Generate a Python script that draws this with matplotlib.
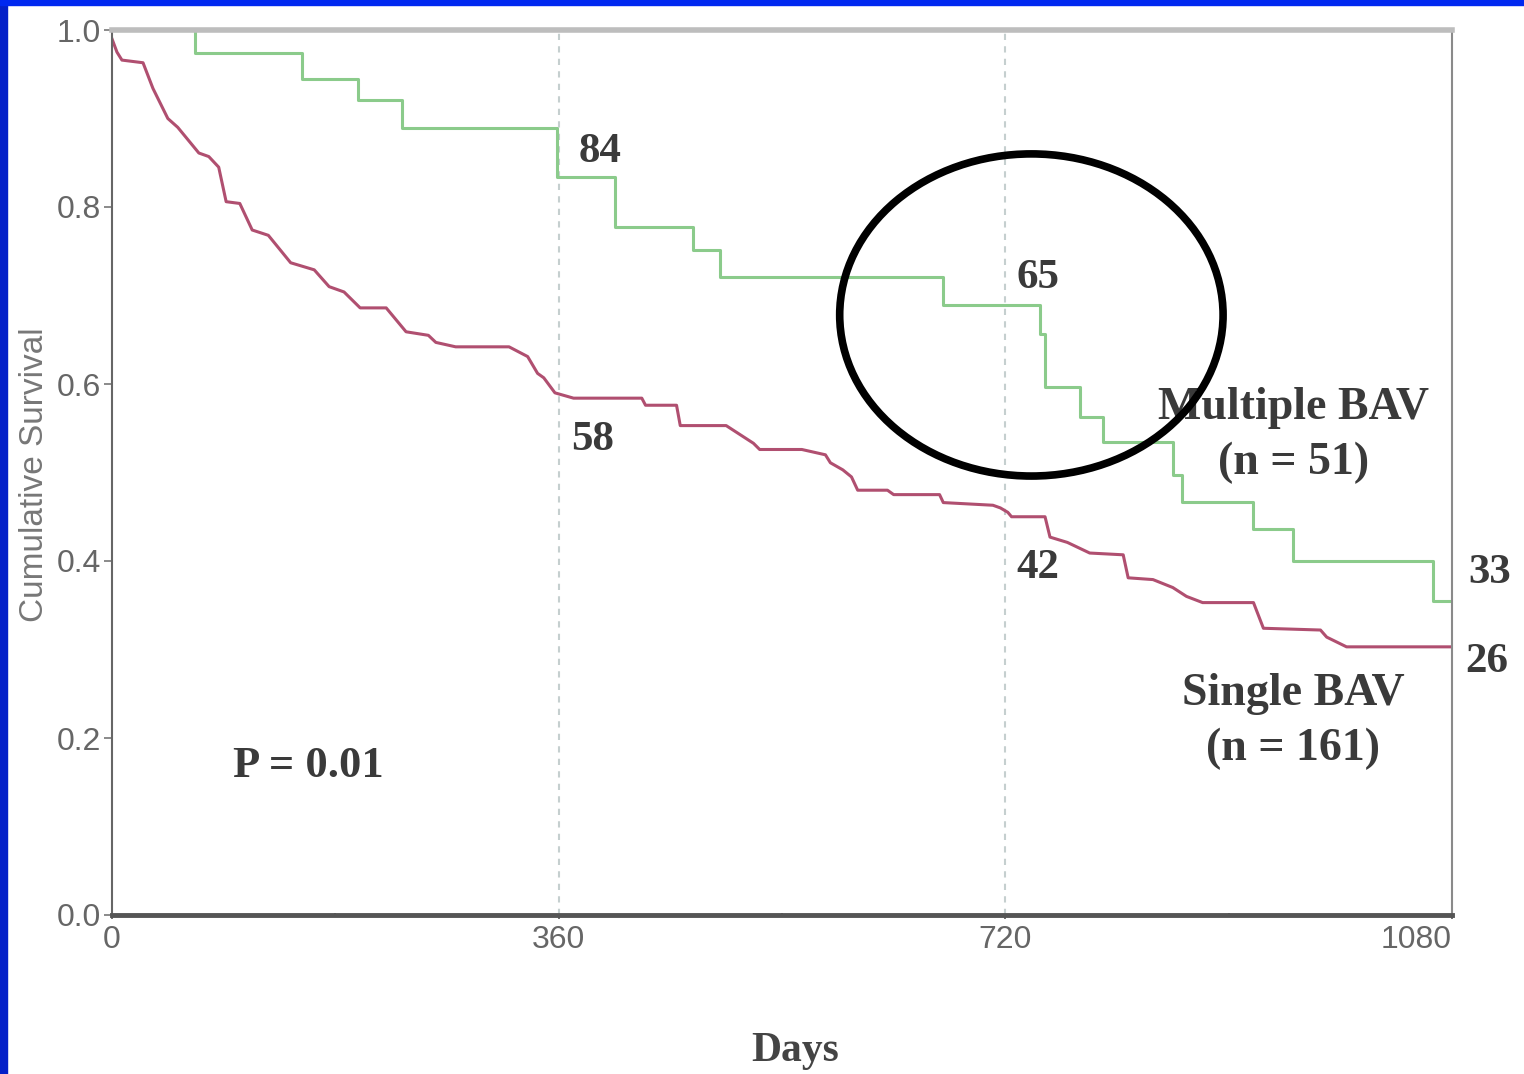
import numpy as np
import matplotlib
matplotlib.use('Agg')
import matplotlib.pyplot as plt
from matplotlib.patches import Ellipse, Rectangle

# multiple BAV (n = 51): step points
green_days = [0, 67, 153, 198, 234, 359, 405, 468, 490, 670, 748, 752, 780, 799, 855, 862, 920, 952, 1065, 1080]
green_surv = [1.0, 0.974, 0.945, 0.921, 0.889, 0.834, 0.777, 0.751, 0.721, 0.689, 0.657, 0.597,
              0.563, 0.534, 0.497, 0.467, 0.436, 0.400, 0.355, 0.355]

# single BAV (n = 161): outline of the curve as seen
red_days = [0, 4, 8, 25, 33, 45, 53, 70, 78, 86, 92, 103, 113, 126, 144, 163, 175, 187, 200, 221,
            237, 255, 261, 277, 320, 335, 343, 348, 357, 372, 427, 430, 455, 458, 495, 517, 522, 556,
            575, 579, 589, 596, 601, 625, 630, 667, 670, 710, 716, 722, 725, 752, 756, 770, 788, 815,
            819, 839, 855, 866, 879, 920, 928, 974, 979, 995, 1080]
red_surv = [0.99, 0.975, 0.966, 0.963, 0.934, 0.900, 0.890, 0.861, 0.857, 0.845, 0.806, 0.804, 0.774,
            0.768, 0.737, 0.729, 0.710, 0.704, 0.686, 0.686, 0.659, 0.655, 0.647, 0.642, 0.642, 0.631,
            0.612, 0.607, 0.590, 0.584, 0.584, 0.576, 0.576, 0.553, 0.553, 0.533, 0.526, 0.526, 0.520,
            0.511, 0.503, 0.495, 0.480, 0.480, 0.475, 0.475, 0.466, 0.463, 0.460, 0.455, 0.450, 0.450,
            0.427, 0.421, 0.409, 0.407, 0.381, 0.379, 0.370, 0.360, 0.353, 0.353, 0.324, 0.322, 0.314,
            0.303, 0.303]

x_ticks = [0, 360, 720, 1080]
y_ticks = [0.0, 0.2, 0.4, 0.6, 0.8, 1.0]

# numbers at risk: (day, survival-level, text)
risk_labels = [(376, 0.862, '84'), (370, 0.537, '58'), (729, 0.72, '65'), (729, 0.392, '42'),
               (1093, 0.386, '33'), (1091, 0.286, '26')]

serif = ['Liberation Serif', 'DejaVu Serif']
narrow = ['Liberation Sans Narrow', 'Liberation Sans', 'DejaVu Sans']

fig = plt.figure(figsize=(15.24, 10.74), dpi=100)
ax = fig.add_axes([112/1524, 1 - 915/1074, 1340/1524, 885/1074])

ax.plot(green_days, green_surv, drawstyle='steps-post', color='#8bcb8b', lw=2.2)
ax.plot(red_days, red_surv, color='#b04f70', lw=2.2)

for xv in [360, 720]:
    ax.axvline(xv, color='#c5cfcf', lw=1.5, ls=(0, (3, 3)), zorder=0)

ax.set_xlim(0, 1080)
ax.set_ylim(0, 1.0)
ax.set_xticks(x_ticks)
ax.set_xticklabels([str(v) for v in x_ticks], family=narrow, fontsize=23, color='#666666')
ax.set_xticks([180, 540, 900], minor=True)
ax.set_yticks(y_ticks)
ax.set_yticklabels(['%.1f' % v for v in y_ticks], family=narrow, fontsize=23, color='#666666')
ax.tick_params(axis='y', length=6, width=1.2, color='#777777', pad=2)
ax.tick_params(axis='x', which='major', length=3, width=1.2, color='#555555', pad=4)
ax.tick_params(axis='x', which='minor', length=3, width=1.5, color='#555555', direction='inout')
ax.get_xticklabels()[-1].set_horizontalalignment('right')

ax.spines['top'].set_color('#bdbdbd')
ax.spines['top'].set_linewidth(4)
ax.spines['bottom'].set_color('#555555')
ax.spines['bottom'].set_linewidth(3.5)
ax.spines['left'].set_color('#666666')
ax.spines['left'].set_linewidth(1.5)
ax.spines['right'].set_color('#8a8a8a')
ax.spines['right'].set_linewidth(1.5)

ax.set_ylabel('Cumulative Survival', fontsize=24, color='#777777', family=['Liberation Sans', 'DejaVu Sans'])
ax.yaxis.set_label_coords(-0.046, 0.497)
ax.set_xlabel('Days', fontsize=30, color='#444444', family=serif, fontweight='bold')
ax.xaxis.set_label_coords(0.51, -0.132)

for d, s, t in risk_labels:
    ax.text(d, s, t, fontsize=31, fontweight='bold', family=serif, color='#3a3a3a',
            ha='left', va='center', clip_on=False)

ax.text(952, 0.542, 'Multiple BAV\n(n = 51)', fontsize=33, fontweight='bold', family=serif,
        color='#3a3a3a', ha='center', va='center', linespacing=1.4)
ax.text(952, 0.219, 'Single BAV\n(n = 161)', fontsize=33, fontweight='bold', family=serif,
        color='#3a3a3a', ha='center', va='center', linespacing=1.4)
ax.text(158, 0.168, 'P = 0.01', fontsize=32, fontweight='bold', family=serif,
        color='#3a3a3a', ha='center', va='center')

# hand-drawn highlight ring
ax.add_patch(Ellipse((741, 0.678), 309, 0.364, fill=False, ec='black', lw=5.5, clip_on=False, zorder=5))

# blue slide frame
fig.add_artist(Rectangle((0, 0), 7/1524, 1, transform=fig.transFigure, color='#0420c8', zorder=10))
fig.add_artist(Rectangle((0, 1 - 5/1074), 1, 5/1074, transform=fig.transFigure, color='#0028f0', zorder=10))

fig.savefig('out.png', dpi=100)
